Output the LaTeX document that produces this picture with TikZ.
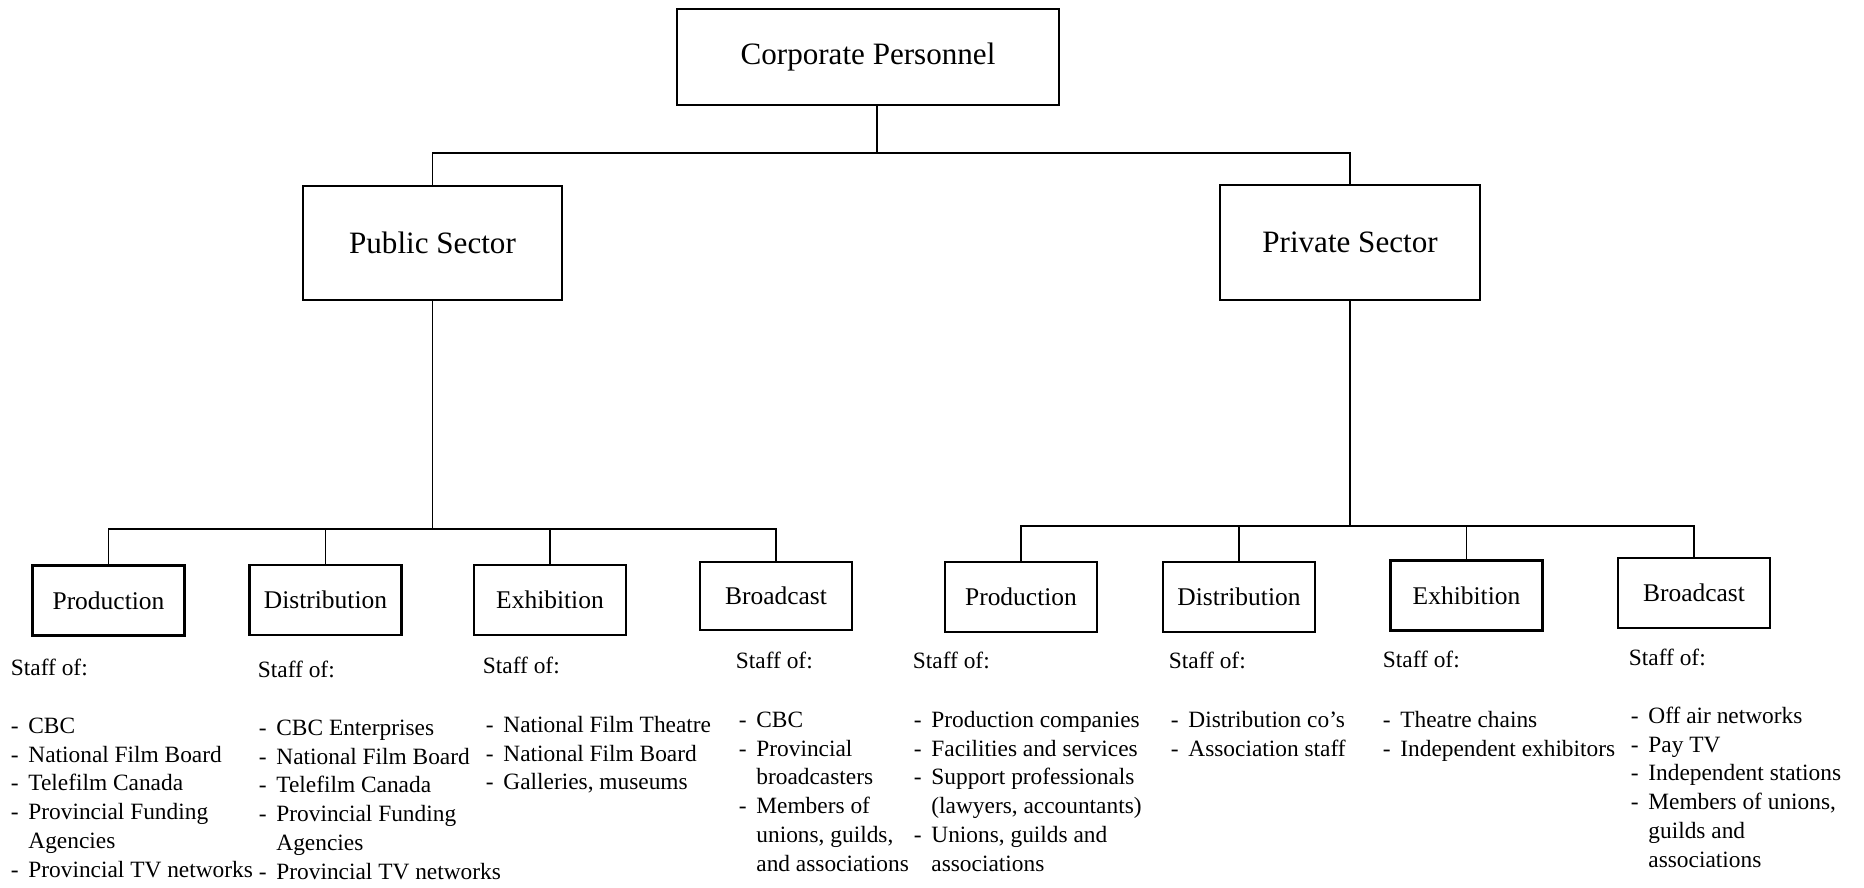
\documentclass[tikz,border=0pt]{standalone}
\usepackage{fontspec}
\setmainfont{Liberation Serif}
\usepackage{tikz}
\usetikzlibrary{positioning}

\newcommand{\staffitems}[1]{\begin{tabular}[t]{@{}l@{\hspace{5.5pt}}l@{}}#1\end{tabular}}

\begin{document}
\begin{tikzpicture}[
  x=0.02cm,y=-0.02cm,
  line width=1.1pt,
  wh/.style 2 args={minimum width=#1*0.02cm,minimum height=#2*0.02cm},
  box/.style={draw,line width=1.3pt,inner sep=0pt,wh={152}{70},
    font=\fontsize{14.5}{17}\selectfont},
  big box/.style={box,font=\fontsize{17.7}{21}\selectfont},
  staff/.style={anchor=base west,inner sep=0pt,
    font=\fontsize{13.3}{16.5}\selectfont}
  ]
  \useasboundingbox (0,0) rectangle (1864,887);
  % corp-top p-public v-private; prod dist exh brd; s-staff l-list
  \node [big box,wh={382}{96}]  (corp) at (868,57)    {Corporate Personnel};
  \node [big box,wh={259}{114}] (pub)  at (432.5,243) {Public Sector};
  \node [big box,wh={260}{115}] (priv) at (1350,242.5) {Private Sector};

  \node [box] (pprod) at (108.5,600.5) {Production};
  \node [box] (pdist) at (325.5,600)   {Distribution};
  \node [box] (pexh)  at (550,600)     {Exhibition};
  \node [box,wh={152}{68}] (pbrd) at (776,596) {Broadcast};
  \node [box] (vprod) at (1021,597)    {Production};
  \node [box] (vdist) at (1239,597)    {Distribution};
  \node [box] (vexh)  at (1466.5,595.5) {Exhibition};
  \node [box] (vbrd)  at (1694,593)    {Broadcast};

  % connectors
  \coordinate (topbus)  at (877,153);
  \coordinate (pubbus)  at (pub.south |- 0,529);
  \coordinate (privbus) at (priv.south |- 0,526);
  \draw (corp.south -| topbus) -- (topbus);
  \draw (pub.north) |- (topbus) -| (priv.north);
  \draw (pub) -- (pubbus);
  \draw (pprod.north) |- (pubbus) -| (pbrd.north);
  \draw (pdist.north) -- (pdist.north |- pubbus);
  \draw (pexh.north) -- (pexh.north |- pubbus);
  \draw (priv) -- (privbus);
  \draw (vprod.north) |- (privbus) -| (vbrd.north);
  \draw (vdist.north) -- (vdist.north |- privbus);
  \draw (vexh.north) -- (vexh.north |- privbus);

  % staff lists
  \node [staff] (pprods) at (10,675)  {Staff of:};
  \node [staff] (pprodl) at (10,733)  {\staffitems{- & CBC\\ - & National Film Board\\ - & Telefilm Canada\\
    - & Provincial Funding\\ & Agencies\\ - & Provincial TV networks}};
  \node [staff] (pdists) at (257,677) {Staff of:};
  \node [staff] (pdistl) at (258,735) {\staffitems{- & CBC Enterprises\\ - & National Film Board\\ - & Telefilm Canada\\
    - & Provincial Funding\\ & Agencies\\ - & Provincial TV networks}};
  \node [staff] (pexhs)  at (482,673) {Staff of:};
  \node [staff] (pexhl)  at (485,732) {\staffitems{- & National Film Theatre\\ - & National Film Board\\
    - & Galleries, museums}};
  \node [staff] (pbrds)  at (735,668) {Staff of:};
  \node [staff] (pbrdl)  at (738,727) {\staffitems{- & CBC\\ - & Provincial\\ & broadcasters\\ - & Members of\\
    & unions, guilds,\\ & and associations}};

  \node [staff] (vprods) at (912,668)  {Staff of:};
  \node [staff] (vprodl) at (913,727)  {\staffitems{- & Production companies\\ - & Facilities and services\\
    - & Support professionals\\ & (lawyers, accountants)\\ - & Unions, guilds and\\ & associations}};
  \node [staff] (vdists) at (1168,668) {Staff of:};
  \node [staff] (vdistl) at (1170,727) {\staffitems{- & Distribution co's\\ - & Association staff}};
  \node [staff] (vexhs)  at (1382,667) {Staff of:};
  \node [staff] (vexhl)  at (1382,727) {\staffitems{- & Theatre chains\\ - & Independent exhibitors}};
  \node [staff] (vbrds)  at (1628,665) {Staff of:};
  \node [staff] (vbrdl)  at (1630,723) {\staffitems{- & Off air networks\\ - & Pay TV\\ - & Independent stations\\
    - & Members of unions,\\ & guilds and\\ & associations}};
\end{tikzpicture}
\end{document}
